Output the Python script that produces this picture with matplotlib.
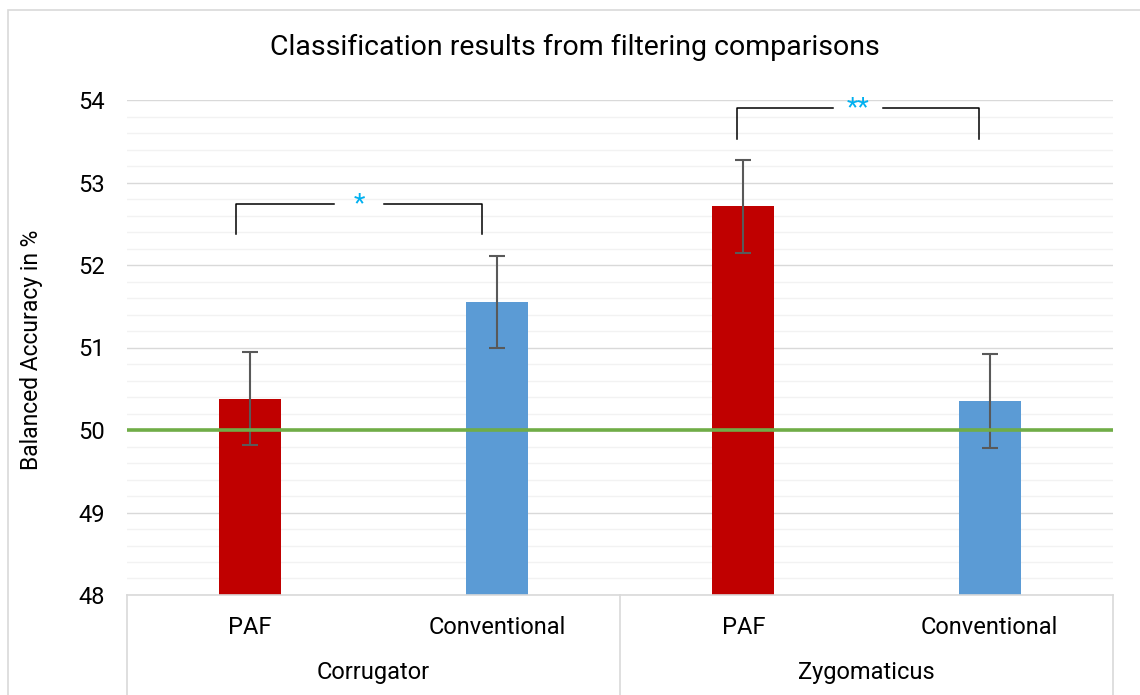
import matplotlib
matplotlib.use('Agg')
import matplotlib.pyplot as plt
import matplotlib.transforms as mtransforms
from matplotlib.patches import Rectangle

plt.rcParams['font.family'] = ['Roboto', 'DejaVu Sans']

# Дані
groups = ['Corrugator', 'Zygomaticus']
methods = ['PAF', 'Conventional', 'PAF', 'Conventional']
accuracy = [50.38, 51.55, 52.71, 50.35]
errors = [0.56, 0.56, 0.56, 0.57]
bar_colors = ['#C00000', '#5B9BD5', '#C00000', '#5B9BD5']
chance_level = 50
# пари для порівняння: (ліва колонка, права колонка, позначка)
comparisons = [(0, 1, '*'), (2, 3, '**')]
# зсув кінців дужок відносно центрів колонок
bracket_shift = [(-0.057, -0.06), (-0.025, -0.044)]

W, H = 1140, 695
fig = plt.figure(figsize=(W / 100, H / 100), dpi=100)
fig.patch.set_facecolor('white')

# рамка області діаграми
fig.patches.append(Rectangle((8 / W, -0.1), 1.2, 1.1 - 10 / H, transform=fig.transFigure,
                             fill=False, edgecolor='#D9D9D9', lw=1.2))

ax = fig.add_axes([127 / W, 100 / H, 986 / W, 495 / H])
x = list(range(len(accuracy)))

ax.set_ylim(48, 54)
ax.set_xlim(-0.5, 3.5)
ax.set_yticks(range(48, 55))
ax.set_yticks([48 + 0.2 * i for i in range(31)], minor=True)
ax.grid(axis='y', which='minor', color='#F2F2F2', lw=1.0, zorder=0)
ax.grid(axis='y', which='major', color='#D9D9D9', lw=1.0, zorder=0)
ax.tick_params(axis='y', which='both', length=0, pad=16, labelsize=17)
ax.tick_params(axis='x', length=0, labelbottom=False)
for s in ['top', 'right', 'left']:
    ax.spines[s].set_visible(False)
ax.spines['bottom'].set_color('#D9D9D9')
ax.spines['bottom'].set_linewidth(1.2)

ax.bar(x, [a - 48 for a in accuracy], bottom=48, width=0.25, color=bar_colors, zorder=2)
ax.errorbar(x, accuracy, yerr=errors, fmt='none', ecolor='#595959', elinewidth=1.5,
            capsize=6, capthick=1.5, zorder=3)
ax.axhline(chance_level, color='#70AD47', lw=2.6, zorder=4)

# лінії-роздільники та підписи категорій під віссю
trans = mtransforms.blended_transform_factory(ax.transData, ax.transAxes)
for xs in [-0.5, 1.5, 3.5]:
    ax.plot([xs, xs], [0, -0.3], transform=trans, color='#D9D9D9', lw=1.2, clip_on=False)
for xi, m in zip(x, methods):
    ax.text(xi, -0.065, m, transform=trans, ha='center', va='center', fontsize=17)
for gi, g in enumerate(groups):
    ax.text(2 * gi + 0.5, -0.156, g, transform=trans, ha='center', va='center', fontsize=17)

# дужки значущості
for (i, j, mark), (dl, dr) in zip(comparisons, bracket_shift):
    top = max(accuracy[i] + errors[i], accuracy[j] + errors[j]) + 0.63
    low = top - 0.37
    xl, xr = x[i] + dl, x[j] + dr
    mid = (xl + xr) / 2
    gap = 0.1
    ax.plot([xl, xl, mid - gap], [low, top, top], color='black', lw=1.1, zorder=5)
    ax.plot([mid + gap, xr, xr], [top, top, low], color='black', lw=1.1, zorder=5)
    ax.text(mid, top, mark, ha='center', va='center', color='#00B0F0', fontsize=19, zorder=5)

fig.text(575 / W, 1 - 47 / H, 'Classification results from filtering comparisons',
         ha='center', va='center', fontsize=20.5)
fig.text(32 / W, 1 - 350 / H, 'Balanced Accuracy in %', rotation=90,
         ha='center', va='center', fontsize=16.5)

fig.savefig('out.png', dpi=100)
